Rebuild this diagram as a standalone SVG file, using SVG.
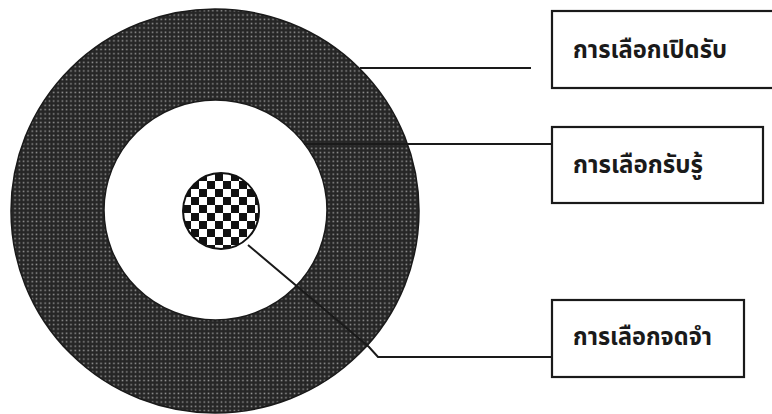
<svg xmlns="http://www.w3.org/2000/svg" width="772" height="414" viewBox="0 0 772 414">
<defs>
<pattern id="dots" width="4.3" height="4.3" patternUnits="userSpaceOnUse">
<rect width="4.3" height="4.3" fill="#262626"/>
<rect x="1.4" y="1.4" width="1.5" height="1.5" fill="#9a9a9a"/>
</pattern>
<pattern id="checker" width="16" height="16" patternUnits="userSpaceOnUse" x="183" y="173">
<rect width="16" height="16" fill="#ffffff"/>
<rect width="8" height="8" fill="#111111"/>
<rect x="8" y="8" width="8" height="8" fill="#111111"/>
</pattern>
</defs>
<style>
.box{fill:#ffffff;stroke:#1a1a1a;stroke-width:2.2}
.lbl{font-family:"Noto Sans Thai","Noto Sans","DejaVu Sans",sans-serif;font-weight:bold;font-size:25px;fill:#1a1a1a}
.conn{fill:none;stroke:#1a1a1a;stroke-width:2}
</style>
<rect width="772" height="414" fill="#ffffff"/>
<g id="outer-ring">
<ellipse cx="215" cy="211" rx="204" ry="202" fill="url(#dots)" stroke="#1a1a1a" stroke-width="1.5"/>
</g>
<g id="inner-circle">
<ellipse cx="215.5" cy="210" rx="111.5" ry="110" fill="#ffffff" stroke="#1a1a1a" stroke-width="1.5"/>
</g>
<g id="core">
<circle cx="221" cy="211" r="38" fill="url(#checker)" stroke="#111111" stroke-width="2"/>
</g>
<g id="connectors">
<line class="conn" x1="360" y1="68" x2="531" y2="68"/>
<line class="conn" x1="304" y1="144" x2="552" y2="144"/>
<polyline class="conn" points="248,245 369,347 378,357 552,357"/>
</g>
<g id="box-exposure">
<rect class="box" x="552" y="11" width="230" height="77"/>
<text class="lbl" x="573" y="58" textLength="154" lengthAdjust="spacingAndGlyphs">การเลือกเปิดรับ</text>
</g>
<g id="box-perception">
<rect class="box" x="552" y="127" width="211" height="76"/>
<text class="lbl" x="573" y="173" textLength="130" lengthAdjust="spacingAndGlyphs">การเลือกรับรู้</text>
</g>
<g id="box-retention">
<rect class="box" x="552" y="300" width="192" height="77"/>
<text class="lbl" x="573" y="345" textLength="139" lengthAdjust="spacingAndGlyphs">การเลือกจดจำ</text>
</g>
</svg>
